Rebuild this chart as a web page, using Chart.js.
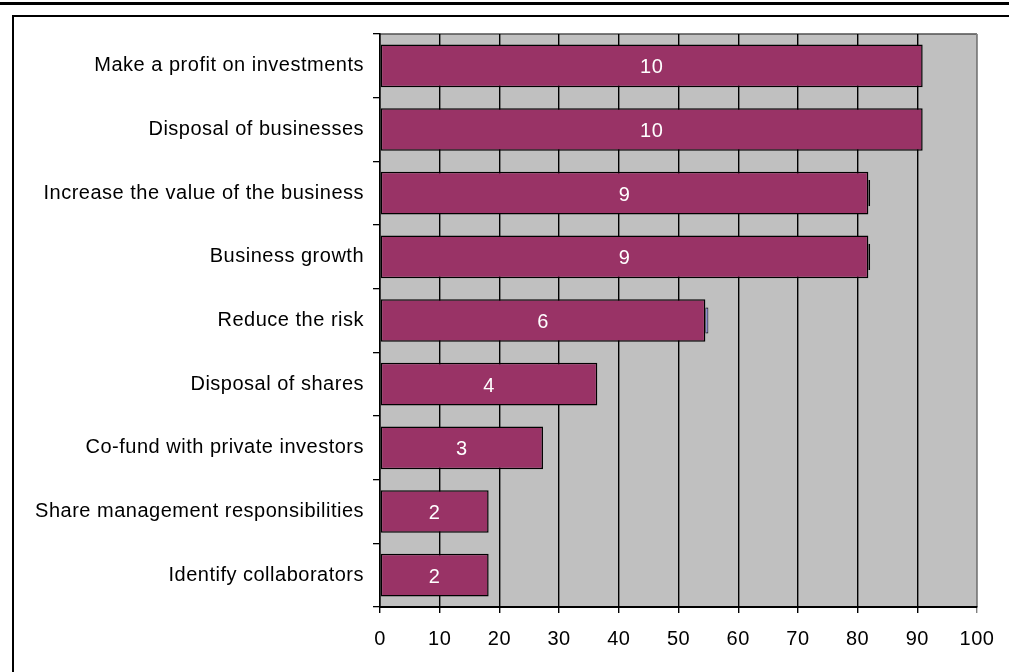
<!DOCTYPE html>
<html>
<head>
<meta charset="utf-8">
<script src="https://cdn.jsdelivr.net/npm/chart.js@4.4.1/dist/chart.umd.min.js"></script>
<style>
    html, body { margin: 0; padding: 0; background: #fff; }
    #wrap { position: relative; width: 1009px; height: 672px; overflow: hidden; }
    #rule { position: absolute; left: 0; top: 2px; width: 1009px; height: 3px; background: #000; }
    #frame { position: absolute; left: 12px; top: 15px; width: 1100px; height: 800px;
             border-left: 2px solid #000; border-top: 2px solid #000; }
    #chMotives { position: absolute; left: 0; top: 0; }
</style>
</head>
<body>
<div id="wrap">
    <div id="rule"></div>
    <div id="frame"></div>
    <canvas id="chMotives" width="1009" height="672"></canvas>
</div>
<script>
var categories = [
    'Make a profit on investments',
    'Disposal of businesses',
    'Increase the value of the business',
    'Business growth',
    'Reduce the risk',
    'Disposal of shares',
    'Co-fund with private investors',
    'Share management responsibilities',
    'Identify collaborators'
];
// number of answers per motive (printed inside the bars)
var counts = [10, 10, 9, 9, 6, 4, 3, 2, 2];
// share of respondents, in %
var shares = [90.9, 90.9, 81.8, 81.8, 54.5, 36.4, 27.3, 18.2, 18.2];
// thin second series stacked at the end of some bars
var extra = [0, 0, 0.3, 0.3, 0.5, 0, 0, 0, 0];
var xTicks = [0, 10, 20, 30, 40, 50, 60, 70, 80, 90, 100];

var labelFont = { family: '"Liberation Sans", Arial, sans-serif', size: 20 };

// grey plot area with its border
var plotBackground = {
    id: 'plotBackground',
    beforeDraw: function (chart) {
        var ctx = chart.ctx, a = chart.chartArea;
        ctx.letterSpacing = '0.5px';
        ctx.save();
        ctx.fillStyle = '#c0c0c0';
        ctx.fillRect(a.left, a.top, a.right - a.left, a.bottom - a.top);
        ctx.lineWidth = 1.5;
        ctx.strokeStyle = '#505050';
        ctx.beginPath();
        ctx.moveTo(a.left, a.top);
        ctx.lineTo(a.right, a.top);
        ctx.stroke();
        ctx.strokeStyle = '#808080';
        ctx.beginPath();
        ctx.moveTo(a.right, a.top);
        ctx.lineTo(a.right, a.bottom);
        ctx.stroke();
        ctx.restore();
    }
};

// counts written in white in the middle of each bar
var countLabels = {
    id: 'countLabels',
    afterDatasetsDraw: function (chart) {
        var ctx = chart.ctx;
        var meta = chart.getDatasetMeta(0);
        ctx.save();
        ctx.font = labelFont.size + 'px ' + labelFont.family;
        ctx.fillStyle = '#ffffff';
        ctx.textAlign = 'center';
        ctx.textBaseline = 'middle';
        meta.data.forEach(function (bar, i) {
            ctx.fillText(String(counts[i]), (bar.base + bar.x) / 2, bar.y + 2);
        });
        ctx.restore();
    }
};

var chMotives = document.getElementById('chMotives');
if (chMotives) {
    new Chart(chMotives, {
        type: 'bar',
        data: {
            labels: categories,
            datasets: [
                {
                    label: 'Share',
                    data: shares,
                    backgroundColor: '#993366',
                    borderColor: '#000000',
                    borderWidth: 1.5,
                    borderSkipped: false,
                    categoryPercentage: 1,
                    barPercentage: 0.67
                },
                {
                    label: 'Other',
                    data: extra,
                    backgroundColor: '#9999ff',
                    borderColor: '#000000',
                    borderWidth: 1,
                    borderSkipped: false,
                    categoryPercentage: 1,
                    barPercentage: 0.41
                }
            ]
        },
        options: {
            indexAxis: 'y',
            responsive: false,
            animation: false,
            events: [],
            layout: { padding: { top: 34, right: 32, left: 0, bottom: 0 } },
            plugins: {
                legend: { display: false },
                tooltip: { enabled: false }
            },
            scales: {
                x: {
                    stacked: true,
                    min: 0,
                    max: 100,
                    afterBuildTicks: function (scale) {
                        scale.ticks = xTicks.map(function (v) { return { value: v }; });
                    },
                    afterFit: function (scale) { scale.height = 65; },
                    ticks: {
                        color: '#000',
                        font: labelFont,
                        padding: 14,
                        maxRotation: 0
                    },
                    grid: {
                        color: function (c) { return c.tick && c.tick.value === 100 ? '#808080' : '#000'; },
                        lineWidth: 1.4,
                        tickLength: 6,
                        drawOnChartArea: true
                    },
                    border: { color: '#000', width: 2 }
                },
                y: {
                    stacked: true,
                    afterFit: function (scale) { scale.width = 380; },
                    ticks: {
                        color: '#000',
                        font: labelFont,
                        padding: 9
                    },
                    grid: {
                        offset: true,
                        drawOnChartArea: false,
                        color: '#000',
                        lineWidth: 1.3,
                        tickLength: 7
                    },
                    border: { color: '#000', width: 1.5 }
                }
            }
        },
        plugins: [plotBackground, countLabels]
    });
}
</script>
</body>
</html>
